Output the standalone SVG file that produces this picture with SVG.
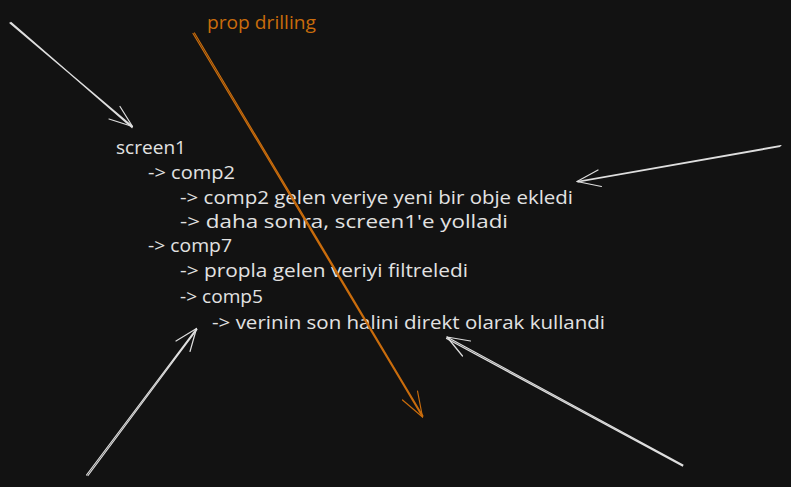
<svg xmlns="http://www.w3.org/2000/svg" width="791" height="487" viewBox="0 0 791 487">
<style>
.t{font-family:"Open Sans","Liberation Sans",sans-serif;font-size:18px;fill:#e2e2e2}
.o{font-family:"Open Sans","Liberation Sans",sans-serif;font-size:18px;fill:#c96c0c}
.w{stroke:#dedede;stroke-width:1.2;fill:none;stroke-linecap:round;stroke-linejoin:round}
.r{stroke:#c96c0c;stroke-width:1.2;fill:none;stroke-linecap:round;stroke-linejoin:round}
</style>
<rect width="791" height="487" fill="#121212"/>
<g id="label-prop-drilling"><text class="o" x="207" y="29" textLength="109" lengthAdjust="spacingAndGlyphs">prop drilling</text></g>
<g id="tree">
<text class="t" x="116" y="154" textLength="70" lengthAdjust="spacingAndGlyphs">screen1</text>
<text class="t" x="148" y="179" textLength="87" lengthAdjust="spacingAndGlyphs">-&gt; comp2</text>
<text class="t" x="180" y="204" textLength="393" lengthAdjust="spacingAndGlyphs">-&gt; comp2 gelen veriye yeni bir obje ekledi</text>
<text class="t" x="180" y="228" textLength="328" lengthAdjust="spacingAndGlyphs">-&gt; daha sonra, screen1'e yolladi</text>
<text class="t" x="148" y="252" textLength="84" lengthAdjust="spacingAndGlyphs">-&gt; comp7</text>
<text class="t" x="180" y="277" textLength="288" lengthAdjust="spacingAndGlyphs">-&gt; propla gelen veriyi filtreledi</text>
<text class="t" x="180" y="303" textLength="83" lengthAdjust="spacingAndGlyphs">-&gt; comp5</text>
<text class="t" x="212" y="329" textLength="393" lengthAdjust="spacingAndGlyphs">-&gt; verinin son halini direkt olarak kullandi</text>
</g>
<g id="connectors">
<g id="arrow-top-left">
<path class="w" d="M10 23 L132.5 126.5 M11 22.5 L132 127.5"/>
<path class="w" d="M120 106.5 L132.5 126.5 L109 119"/>
</g>
<g id="arrow-right">
<path class="w" d="M781 145.5 L577 181.5 M780 146.5 L578 182"/>
<path class="w" d="M598 170 L577 181.5 L601.5 186.5"/>
</g>
<g id="arrow-bottom-left">
<path class="w" d="M86.5 475 L196.5 328.5 M88 475.5 L197 329.5"/>
<path class="w" d="M176 341 L196.5 328.5 L190 351.5"/>
</g>
<g id="arrow-bottom-right">
<path class="w" d="M683 465 L447 337 M682.5 466 L446.5 338.5"/>
<path class="w" d="M470.5 341 L447 337 L462.5 356"/>
</g>
<g id="arrow-orange">
<path class="r" d="M193 33.5 L422.5 417 M194.5 33 L423 416"/>
<path class="r" d="M402.5 400 L422.5 417 L417.5 391"/>
</g>
</g>
</svg>
